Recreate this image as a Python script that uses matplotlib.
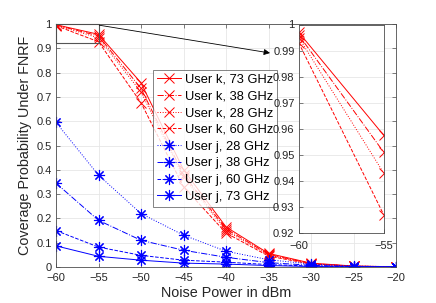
import matplotlib
matplotlib.use("Agg")
import matplotlib.pyplot as plt
import numpy as np

plt.rcParams['font.family'] = ['Liberation Sans', 'DejaVu Sans']

noise_dbm = [-60, -55, -50, -45, -40, -35, -30, -25, -20]

# User k (red, x markers)
k73 = [0.997, 0.9575, 0.758, 0.40, 0.165, 0.056, 0.016, 0.004, 0.001]
k38 = [0.996, 0.951, 0.735, 0.38, 0.157, 0.052, 0.014, 0.0035, 0.001]
k28 = [0.995, 0.943, 0.72, 0.37, 0.150, 0.049, 0.013, 0.003, 0.001]
k60 = [0.993, 0.927, 0.676, 0.33, 0.140, 0.045, 0.012, 0.003, 0.001]

# User j (blue, * markers)
j28 = [0.595, 0.378, 0.220, 0.131, 0.065, 0.030, 0.012, 0.004, 0.001]
j38 = [0.345, 0.192, 0.110, 0.069, 0.040, 0.018, 0.007, 0.002, 0.0005]
j60 = [0.150, 0.082, 0.048, 0.028, 0.020, 0.010, 0.004, 0.001, 0.0003]
j73 = [0.087, 0.044, 0.028, 0.016, 0.012, 0.006, 0.002, 0.0006, 0.0002]

red_series = [("User k, 73 GHz", k73, '-'), ("User k, 38 GHz", k38, '-.'),
              ("User k, 28 GHz", k28, ':'), ("User k, 60 GHz", k60, '--')]
blue_series = [("User j, 28 GHz", j28, ':'), ("User j, 38 GHz", j38, '-.'),
               ("User j, 60 GHz", j60, '--'), ("User j, 73 GHz", j73, '-')]

xticks = [-60, -55, -50, -45, -40, -35, -30, -25, -20]
yticks = [0, 0.1, 0.2, 0.3, 0.4, 0.5, 0.6, 0.7, 0.8, 0.9, 1]
inset_yticks = [0.92, 0.93, 0.94, 0.95, 0.96, 0.97, 0.98, 0.99, 1]
inset_xticks = [-60, -55]

W, H = 436, 303
fig = plt.figure(figsize=(W/100, H/100), dpi=100)
ax = fig.add_axes([56/W, 1-267/H, (396-56)/W, (267-24)/H])

def style(a):
    a.grid(True, color='#e6e6e6', linewidth=0.6)
    a.set_axisbelow(True)
    for s in a.spines.values():
        s.set_color('#4d4d4d')
        s.set_linewidth(0.6)
    a.tick_params(direction='in', top=True, right=True, length=3, width=0.5,
                  colors='#4d4d4d', labelcolor='#262626', labelsize=8)
    a.tick_params(axis='x', pad=4.5)
    a.tick_params(axis='y', pad=3)

asterisk = (8, 2, 0)
for lab, y, ls in red_series:
    ax.plot(noise_dbm, y, ls, color='red', lw=0.7, marker='x', ms=6.5, mew=0.7, label=lab)
for lab, y, ls in blue_series:
    ax.plot(noise_dbm, y, ls, color='blue', lw=0.7, marker=asterisk, ms=8, mew=0.8,
            label=lab)

ax.set_xlim(-60, -20)
ax.set_ylim(0, 1)
ax.set_xticks(xticks)
ax.set_yticks(yticks)
ax.set_yticklabels(['0', '0.1', '0.2', '0.3', '0.4', '0.5', '0.6', '0.7', '0.8', '0.9', '1'])
style(ax)
ax.set_xlabel('Noise Power in dBm', fontsize=10.4, color='#262626', labelpad=2)
ax.set_ylabel('Coverage Probability Under FNRF', fontsize=10.4, color='#262626', labelpad=3)

leg = ax.legend(loc='upper left', bbox_to_anchor=((153-56)/340, (267-70)/243),
                fontsize=9.3, frameon=True, fancybox=False, handlelength=1.9,
                borderpad=0.3, labelspacing=0.36, handletextpad=0.25, borderaxespad=0)
leg.get_frame().set_edgecolor('#4d4d4d')
leg.get_frame().set_linewidth(0.6)

# zoom rectangle
ax.plot([-60, -55, -55, -60, -60], [1, 1, 0.92, 0.92, 1], color='#555555', lw=0.8, clip_on=False)
# arrow
ax.annotate('', xy=(270, H-53), xycoords='figure pixels',
            xytext=(-55 + 0.1, 0.995), textcoords='data',
            arrowprops=dict(arrowstyle='-|>', color='black', lw=0.6,
                            mutation_scale=9, shrinkA=0, shrinkB=0))

# inset
axi = fig.add_axes([298.7/W, 1-233/H, (383.7-298.7)/W, (233-24.5)/H])
axi.set_facecolor('white')
for lab, y, ls in red_series:
    axi.plot(noise_dbm[:2], y[:2], ls, color='red', lw=0.7, marker='x', ms=6.5, mew=0.7)
axi.set_xlim(-60, -55)
axi.set_ylim(0.92, 1)
axi.set_xticks(inset_xticks)
axi.set_yticks(inset_yticks)
axi.set_yticklabels(['0.92', '0.93', '0.94', '0.95', '0.96', '0.97', '0.98', '0.99', '1'])
style(axi)
axi.tick_params(top=False, right=False)
axi.tick_params(axis='x', pad=6)

fig.savefig('out.png', dpi=100)
